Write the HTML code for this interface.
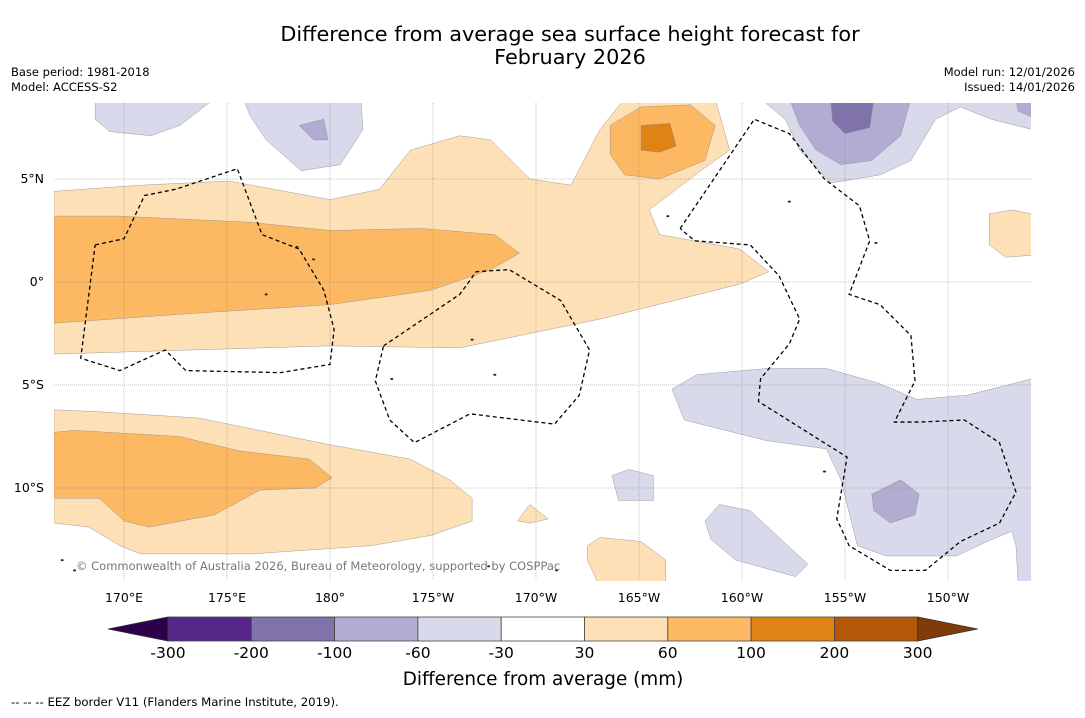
<!DOCTYPE html>
<html><head><meta charset="utf-8"><style>
body{margin:0;background:#fff;}
svg text{font-family:"DejaVu Sans","Liberation Sans",sans-serif;}
</style></head><body>
<svg id="s" width="1085" height="713" xmlns="http://www.w3.org/2000/svg">
<rect width="1085" height="713" fill="#fff"/>
<text x="570" y="41" font-size="20.8" text-anchor="middle">Difference from average sea surface height forecast for</text>
<text x="570" y="64" font-size="20.8" text-anchor="middle">February 2026</text>
<text x="11" y="76" font-size="11.5">Base period: 1981-2018</text>
<text x="11" y="91" font-size="11.5">Model: ACCESS-S2</text>
<text x="1075" y="76" font-size="11.5" text-anchor="end">Model run: 12/01/2026</text>
<text x="1075" y="91" font-size="11.5" text-anchor="end">Issued: 14/01/2026</text>
<defs><clipPath id="mc"><rect x="54" y="103" width="977" height="478"/></clipPath></defs>
<g id="map" clip-path="url(#mc)"></g>
<g id="axes"></g>
<g id="cbar"></g>
<text x="543" y="685" font-size="18.4" text-anchor="middle">Difference from average (mm)</text>
<text x="11" y="706" font-size="11.7">--  --  -- EEZ border V11 (Flanders Marine Institute, 2019).</text>
</svg>
<script>
const levels=["-300","-200","-100","-60","-30","30","60","100","200","300"];
const levelColors=["#542788","#8073ac","#b2abd2","#d8daeb","#ffffff","#fee0b6","#fdb863","#e08214","#b35806"];
const lonTicks=[170,175,180,185,190,195,200,205,210];
const lonLabels=["170°E","175°E","180°","175°W","170°W","165°W","160°W","155°W","150°W"];
const latTicks=[5,0,-5,-10];
const latLabels=["5°N","0°","5°S","10°S"];
// contour polygons [lon(0-360), lat]
const lightOrange=[[[166.6,4.4],[170.8,4.7],[175.1,4.9],[180,4.0],[182.4,4.5],[183.9,6.4],[186.3,7.1],[187.8,6.9],[189.7,5.0],[191.7,4.7],[193.1,7.4],[194.3,8.9],[198.7,8.9],[199.4,6.4],[198,5.4],[195.5,3.5],[196,2.3],[199.9,1.6],[201.3,0.5],[199.9,-0.1],[193.1,-1.8],[186.3,-3.2],[180,-3.1],[166.6,-3.5]],
[[166.6,-6.2],[168.8,-6.3],[173.6,-6.6],[180,-7.9],[183.9,-8.6],[185.8,-9.6],[186.9,-10.5],[186.9,-11.6],[184.9,-12.3],[182,-12.8],[176.2,-13.2],[170.8,-13.2],[169.8,-12.8],[168.3,-11.9],[166.6,-11.7]],
[[189.1,-11.6],[189.7,-10.8],[190.6,-11.5],[189.7,-11.7]],
[[192.5,-12.8],[193.1,-12.4],[195.1,-12.6],[196.3,-13.5],[196.3,-14.6],[193,-14.6],[192.5,-13.5]],
[[212,3.3],[213.1,3.5],[214.1,3.3],[214.1,1.3],[212.8,1.2],[212,1.8]]];
const midOrange=[[[166.6,3.2],[169.7,3.2],[176.1,2.9],[180,2.5],[184.4,2.6],[188,2.3],[189.2,1.4],[187.8,0.6],[184.9,-0.4],[180,-1.1],[173.7,-1.5],[166.6,-2.0]],
[[193.6,7.6],[195.1,8.5],[197.5,8.6],[198.7,7.6],[198.2,5.9],[196,5.0],[194.3,5.2],[193.6,6.2]],
[[166.6,-7.3],[167.6,-7.2],[172.7,-7.5],[175.6,-8.2],[179,-8.6],[180.1,-9.5],[179.3,-10],[176.6,-10.1],[174.4,-11.3],[171.2,-11.9],[170,-11.6],[168.8,-10.5],[166.6,-10.5]]];
const darkOrange=[[[195.1,7.6],[196.5,7.7],[196.8,6.6],[196,6.3],[195.1,6.4]]];
const lightPurple=[[[168.6,8.9],[174.4,8.9],[172.7,7.6],[171.3,7.1],[169.3,7.3],[168.6,7.9]],
[[175.8,8.9],[181.5,8.9],[181.6,7.4],[180.5,5.7],[178.6,5.4],[176.9,6.9],[176.1,8.1]],
[[200.9,8.9],[214.1,8.9],[214.1,7.4],[212.1,7.9],[210.6,8.5],[209.4,7.9],[208.2,5.9],[206.7,5.2],[204.3,4.8],[202.8,6.4],[202.1,7.9]],
[[196.6,-5.2],[197.8,-4.5],[201.2,-4.2],[204.1,-4.2],[206.6,-4.9],[208.5,-5.7],[210.9,-5.5],[212.9,-5.0],[214.4,-4.6],[214.4,-14.6],[213.4,-14.6],[213.3,-12.8],[213.1,-12.1],[211.9,-12.6],[210.4,-13.3],[207,-13.3],[205.6,-12.8],[204.8,-9.6],[204.1,-8.1],[201.2,-7.7],[197.2,-6.7]],
[[193.7,-9.4],[194.5,-9.1],[195.7,-9.4],[195.7,-10.6],[194,-10.6]],
[[198.2,-11.6],[198.9,-10.8],[200.4,-11.1],[203.2,-13.7],[202.6,-14.3],[199.7,-13.5],[198.5,-12.5]]];
const midPurple=[[[178.5,7.6],[179.7,7.9],[179.9,6.9],[179.2,6.9]],
[[202.3,8.9],[208.2,8.9],[207.7,7.1],[206.3,5.9],[204.8,5.7],[203.6,6.4],[202.8,7.6]],
[[213.3,8.9],[214.1,8.9],[214.1,8.0],[213.4,8.3]],
[[206.3,-10.3],[207.7,-9.6],[208.6,-10.3],[208.4,-11.3],[207.2,-11.7],[206.4,-11.1]]];
const darkPurple=[[[204.3,8.9],[206.4,8.9],[206.2,7.5],[205,7.2],[204.4,7.8]]];
const eez=[[[168.6,1.8],[170,2.1],[171,4.2],[172.5,4.5],[175.5,5.5],[176.7,2.3],[178.5,1.6],[179.7,-0.4],[180.2,-2.3],[180,-4.0],[177.6,-4.4],[173,-4.3],[172,-3.3],[169.8,-4.3],[167.9,-3.7],[168.6,1.8]],
[[182.6,-3.1],[186.3,-0.6],[187.1,0.5],[188.7,0.6],[191.2,-0.9],[192.6,-3.3],[192.1,-5.5],[190.9,-6.9],[186.8,-6.4],[184.1,-7.8],[182.9,-6.7],[182.2,-4.8],[182.6,-3.1]],
[[197,2.6],[200.6,7.9],[202.3,7.2],[204,5.0],[205.7,3.7],[206.2,2.0],[205.2,-0.6],[206.7,-1.1],[208.2,-2.6],[208.4,-4.8],[207.4,-6.8],[208.6,-6.8],[210.8,-6.7],[212.5,-7.8],[213.3,-10.2],[212.5,-11.7],[210.6,-12.6],[208.9,-14],[207.2,-14],[205.2,-12.8],[204.6,-11.5],[205.1,-8.5],[200.8,-5.8],[200.9,-4.7],[202.3,-3.0],[202.8,-1.8],[201.8,0.3],[200.4,1.8],[197.7,2.0],[197,2.6]]];
const islands=[[178.4,1.7],[179.2,1.1],[176.9,-0.6],[186.9,-2.8],[188,-4.5],[183,-4.7],[187.7,-13.8],[191,-14],[167,-13.5],[167.6,-14],[206.5,1.9],[202.3,3.9],[204,-9.2],[196.4,3.2]];

const NS="http://www.w3.org/2000/svg";
const X=lon=>124+(lon-170)*20.6;
const Y=lat=>282-lat*20.6;
function mk(tag,attrs,parent){const e=document.createElementNS(NS,tag);for(const k in attrs)e.setAttribute(k,attrs[k]);parent.appendChild(e);return e;}
const map=document.getElementById('map');
function drawPolys(list,fill,name){list.forEach(p=>{const e=mk('polygon',{points:p.map(q=>X(q[0])+','+Y(q[1])).join(' '),fill:fill,stroke:'#888',"stroke-width":0.4},map);

});}
drawPolys(lightOrange,levelColors[5],'contour-30-60');
drawPolys(midOrange,levelColors[6],'contour-60-100');
drawPolys(darkOrange,levelColors[7],'contour-100-200');
drawPolys(lightPurple,levelColors[3],'contour-neg60-neg30');
drawPolys(midPurple,levelColors[2],'contour-neg100-neg60');
drawPolys(darkPurple,levelColors[1],'contour-neg200-neg100');
islands.forEach(p=>{const e=mk('ellipse',{cx:X(p[0]),cy:Y(p[1]),rx:1.5,ry:1,fill:'#222'},map);

});
lonTicks.forEach(l=>{const e=mk('line',{x1:X(l),x2:X(l),y1:103,y2:581,stroke:'#888',"stroke-width":0.5,"stroke-dasharray":"1,1"},map);

});
latTicks.forEach(l=>{const e=mk('line',{x1:54,x2:1031,y1:Y(l),y2:Y(l),stroke:'#888',"stroke-width":0.5,"stroke-dasharray":"1,1"},map);

});
eez.forEach(p=>{const e=mk('polyline',{points:p.map(q=>X(q[0])+','+Y(q[1])).join(' '),fill:'none',stroke:'#000',"stroke-width":1.3,"stroke-dasharray":"4,3"},map);

});
const cr=mk('text',{x:76,y:570,"font-size":11.5,fill:'#777'},map);cr.textContent='© Commonwealth of Australia 2026, Bureau of Meteorology, supported by COSPPac';


const ax=document.getElementById('axes');
lonTicks.forEach((l,i)=>{const t=mk('text',{x:X(l),y:602,"font-size":12.5,"text-anchor":"middle"},ax);t.textContent=lonLabels[i];

});
latTicks.forEach((l,i)=>{const t=mk('text',{x:44,y:Y(l)+4,"font-size":12.5,"text-anchor":"end"},ax);t.textContent=latLabels[i];

});
const cb=document.getElementById('cbar');
const cx0=168,cw=83.3,cy=617,ch=24;
let t1=mk('polygon',{points:`108,${cy+ch/2} ${cx0},${cy} ${cx0},${cy+ch}`,fill:'#2d004b',stroke:'#333',"stroke-width":0.8},cb);


levelColors.forEach((c,i)=>{const r=mk('rect',{x:cx0+i*cw,y:cy,width:cw,height:ch,fill:c,stroke:'#444',"stroke-width":0.8},cb);

});
const xe=cx0+levelColors.length*cw;
let t2=mk('polygon',{points:`${xe},${cy} ${xe+60},${cy+ch/2} ${xe},${cy+ch}`,fill:'#7f3b08',stroke:'#333',"stroke-width":0.8},cb);


levels.forEach((l,i)=>{const t=mk('text',{x:cx0+i*cw,y:658,"font-size":15.5,"text-anchor":"middle"},cb);t.textContent=l;

});
</script>
</body></html>
